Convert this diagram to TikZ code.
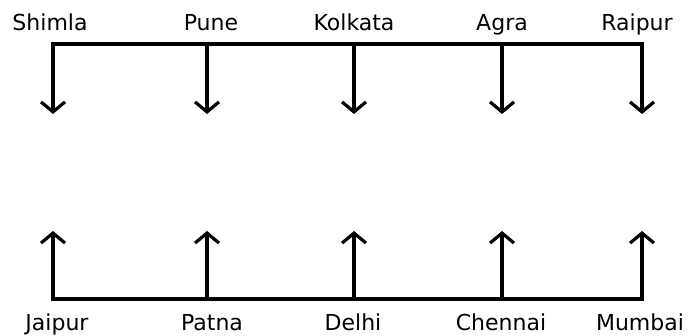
\documentclass[tikz,border=0pt]{standalone}
\usepackage{fontspec}
\setmainfont{DejaVu Sans}
\usetikzlibrary{arrows.meta}

\begin{document}
\begin{tikzpicture}[x=1pt, y=1pt]
  % Styling
  \tikzset{
    barb/.tip={Straight Barb[length=10pt, width=24pt, line width=3.2pt]},
    city/.style={
      font=\fontsize{22}{26}\selectfont,
      text=black,
      anchor=base,
      inner sep=0pt
    },
    line/.style={
      line width=3.2pt,
      line join=miter,
      black
    },
    arrow/.style={
      line,
      -barb
    },
    bus/.style={
      line,
      barb-barb
    }
  }

  \useasboundingbox (0, 0) rectangle (692, 336);

  % ===== Top row =====
  \node[city] (shimla)  at (50, 305)  {Shimla};
  \node[city] (pune)    at (211, 305) {Pune};
  \node[city] (kolkata) at (354, 305) {Kolkata};
  \node[city] (agra)    at (502, 305) {Agra};
  \node[city] (raipur)  at (637, 305) {Raipur};

  % Bus points and arrow tips
  \coordinate (t1) at (53, 292);
  \coordinate (t2) at (207, 292);
  \coordinate (t3) at (354, 292);
  \coordinate (t4) at (502, 292);
  \coordinate (t5) at (642, 292);
  \coordinate (d1) at (53, 222);
  \coordinate (d2) at (207, 222);
  \coordinate (d3) at (354, 222);
  \coordinate (d4) at (502, 222);
  \coordinate (d5) at (642, 222);

  % Arrows down from the bus
  \draw[bus] (d1) -- (t1) -- (t5) -- (d5);
  \draw[arrow] (t2) -- (d2);
  \draw[arrow] (t3) -- (d3);
  \draw[arrow] (t4) -- (d4);

  % ===== Bottom row =====
  \node[city] (jaipur)  at (57, 5)  {Jaipur};
  \node[city] (patna)   at (212, 5) {Patna};
  \node[city] (delhi)   at (353, 5) {Delhi};
  \node[city] (chennai) at (501, 5) {Chennai};
  \node[city] (mumbai)  at (640, 5) {Mumbai};

  % Bus points and arrow tips
  \coordinate (b1) at (53, 37);
  \coordinate (b2) at (207, 37);
  \coordinate (b3) at (354, 37);
  \coordinate (b4) at (502, 37);
  \coordinate (b5) at (642, 37);
  \coordinate (u1) at (53, 105);
  \coordinate (u2) at (207, 105);
  \coordinate (u3) at (354, 105);
  \coordinate (u4) at (502, 105);
  \coordinate (u5) at (642, 105);

  % Arrows up from the bus
  \draw[bus] (u1) -- (b1) -- (b5) -- (u5);
  \draw[arrow] (b2) -- (u2);
  \draw[arrow] (b3) -- (u3);
  \draw[arrow] (b4) -- (u4);

\end{tikzpicture}
\end{document}
